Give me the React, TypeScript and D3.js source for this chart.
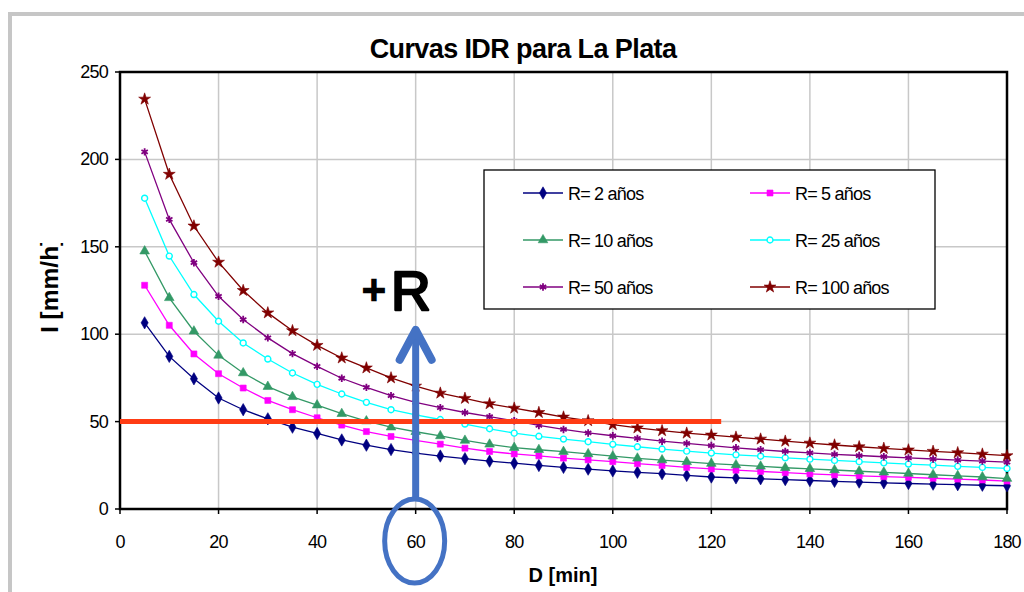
import React, { useMemo } from "react";
import * as d3 from "d3";

// durations [min]
const durations = [
  5, 10, 15, 20, 25, 30, 35, 40, 45, 50, 55, 60, 65, 70, 75, 80, 85, 90, 95,
  100, 105, 110, 115, 120, 125, 130, 135, 140, 145, 150, 155, 160, 165, 170,
  175, 180,
];

// intensities [mm/h]
const r2 = [
  106.5, 87.3, 74.5, 63.5, 56.8, 51.6, 46.8, 43.2, 39.5, 36.5, 34, 32, 30.3,
  28.8, 27.4, 26.2, 24.9, 23.8, 22.8, 21.8, 21, 20.2, 19.2, 18.3, 17.8, 17.3,
  16.8, 16.3, 15.8, 15.4, 15, 14.6, 14.2, 13.9, 13.6, 13.3,
];
const r5 = [
  128, 105.1, 88.7, 77.4, 69.2, 62.1, 56.8, 52.2, 48, 44.3, 41.5, 39.2, 37.1,
  34.8, 32.9, 31.5, 30.4, 29.1, 28.1, 27.1, 25.9, 24.9, 23.8, 22.9, 22.2, 21.5,
  20.8, 20.1, 19.5, 19, 18.5, 18.1, 17.6, 17.1, 16.6, 16,
];
const r10 = [
  147.5, 120.8, 101.7, 87.9, 77.8, 70, 64.2, 59.4, 54.5, 50.3, 46.8, 44.2,
  41.8, 39.2, 37, 35.1, 33.9, 32.8, 31.5, 30.2, 29, 28, 27, 26, 25.2, 24.4,
  23.6, 23, 22.3, 21.6, 21, 20.3, 19.6, 19, 18.3, 17.4,
];
const r25 = [
  177.8, 144.7, 122.7, 107.4, 95, 85.8, 77.8, 71.3, 65.8, 61, 56.8, 53.9, 51.2,
  48.6, 45.9, 43.4, 41.6, 40, 38.5, 37, 35.6, 34.3, 33.1, 32, 31, 30.2, 29.3,
  28.5, 27.8, 27.1, 26.4, 25.7, 25.1, 24.4, 23.8, 23.2,
];
const r50 = [
  204.3, 165.7, 140.9, 121.7, 108.4, 97.9, 88.9, 81.6, 74.8, 69.6, 64.8, 61,
  58, 55.2, 52.8, 50.5, 47.8, 45.5, 43.5, 41.9, 40.4, 38.8, 37.5, 36.3, 35,
  33.9, 32.9, 32.1, 31.3, 30.6, 29.9, 29.2, 28.6, 28, 27.4, 26.8,
];
const r100 = [
  234.5, 191.5, 161.9, 141.2, 125, 112.2, 102, 93.6, 86.4, 80.7, 75, 70.3,
  66.3, 63.3, 60.2, 57.7, 55.2, 52.6, 50.5, 48.3, 46.4, 44.8, 43.4, 42.3, 41.1,
  40, 38.8, 37.7, 36.6, 35.6, 34.7, 33.8, 33, 32.2, 31.4, 30.5,
];

const seriesNames = [
  "R= 2 años",
  "R= 5 años",
  "R= 10 años",
  "R= 25 años",
  "R= 50 años",
  "R= 100 años",
];
const seriesValues = [r2, r5, r10, r25, r50, r100];
const seriesColors = [
  "#000080",
  "#ff00ff",
  "#339966",
  "#00ffff",
  "#800080",
  "#800000",
];

const xTicks = [0, 20, 40, 60, 80, 100, 120, 140, 160, 180];
const yTicks = [0, 50, 100, 150, 200, 250];

// annotations drawn over the chart
const refIntensity = 50;
const refLineEnd = 122;
const arrowDuration = 60;
const arrowTop = 102.5;

const W = 1024,
  H = 592;
const left = 120,
  right = 1007,
  top = 72,
  bottom = 509;
const font = "'Liberation Sans', Arial, sans-serif";

const Marker = ({ i, x, y }: { i: number; x: number; y: number }) => {
  const c = seriesColors[i];
  const sym: any = [
    d3.symbolDiamond,
    d3.symbolSquare,
    d3.symbolTriangle,
    d3.symbolCircle,
    (d3 as any).symbolAsterisk ?? d3.symbolCross,
    d3.symbolStar,
  ][i];
  const size = [44, 36, 40, 28, 38, 44][i];
  const d = d3.symbol().type(sym).size(size)() as string;
  if (i === 3)
    return (
      <path d={d} transform={`translate(${x},${y})`} fill="#fff" stroke={c} strokeWidth={1.4} />
    );
  if (i === 4)
    return (
      <path d={d} transform={`translate(${x},${y})`} fill="none" stroke={c} strokeWidth={1.8} />
    );
  return <path d={d} transform={`translate(${x},${y})`} fill={c} stroke={c} strokeWidth={0.6} />;
};

const App = () => {
  const x = useMemo(() => d3.scaleLinear().domain([0, 180]).range([left, right]), []);
  const y = useMemo(() => d3.scaleLinear().domain([0, 250]).range([bottom, top]), []);
  const line = d3
    .line<number>()
    .x((_, i) => x(durations[i]))
    .y((v) => y(v));

  const legendCols = [523, 750];
  const legendRows = [193, 240, 287];

  const ax = x(arrowDuration);

  return (
    <div style={{ position: "absolute", left: 0, top: 0 }}>
      <svg width={W} height={H} style={{ display: "block", background: "#fff" }}>
        <defs>
          <clipPath id="ylab">
            <rect x={0} y={243} width={120} height={200} />
          </clipPath>
        </defs>
        {/* outer frame */}
        <rect x={10} y={14} width={1200} height={800} fill="none" stroke="#c6c6c6" strokeWidth={4} />

        <text x={523} y={58} textAnchor="middle" fontFamily={font} fontWeight="bold" fontSize={27} letterSpacing={-0.6}>
          Curvas IDR para La Plata
        </text>

        {/* grid */}
        {xTicks.slice(1, -1).map((t) => (
          <line key={"gx" + t} x1={x(t)} x2={x(t)} y1={top} y2={bottom} stroke="#c8c8c8" strokeWidth={1.5} />
        ))}
        {yTicks.slice(1, -1).map((t) => (
          <line key={"gy" + t} x1={left} x2={right} y1={y(t)} y2={y(t)} stroke="#c8c8c8" strokeWidth={1.5} />
        ))}

        {/* plot border + ticks */}
        <rect x={left} y={top} width={right - left} height={bottom - top} fill="none" stroke="#000" strokeWidth={2.5} />
        {yTicks.map((t) => (
          <g key={"yt" + t}>
            <line x1={left - 5} x2={left} y1={y(t)} y2={y(t)} stroke="#000" strokeWidth={1.5} />
            <text x={108} y={y(t) + 6} textAnchor="end" fontFamily={font} fontSize={18} letterSpacing={-0.8}>
              {t}
            </text>
          </g>
        ))}
        {xTicks.map((t) => (
          <g key={"xt" + t}>
            <line x1={x(t)} x2={x(t)} y1={bottom} y2={bottom + 5} stroke="#000" strokeWidth={1.5} />
            <text x={x(t)} y={548} textAnchor="middle" fontFamily={font} fontSize={18} letterSpacing={-0.8}>
              {t}
            </text>
          </g>
        ))}

        <text x={563} y={582} textAnchor="middle" fontFamily={font} fontWeight="bold" fontSize={20}>
          D [min]
        </text>
        <g clipPath="url(#ylab)">
          <text transform="translate(58,333) rotate(-90)" fontFamily={font} fontWeight="bold" fontSize={24.5}>
            I [mm/h]
          </text>
        </g>

        {/* series */}
        {seriesValues.map((vals, i) => (
          <g key={"s" + i}>
            <path d={line(vals) as string} fill="none" stroke={seriesColors[i]} strokeWidth={1.3} />
            {vals.map((v, j) => (
              <Marker key={j} i={i} x={x(durations[j])} y={y(v)} />
            ))}
          </g>
        ))}

        {/* legend */}
        <rect x={484} y={170} width={451} height={139} fill="#fff" stroke="#000" strokeWidth={1.3} />
        {seriesNames.map((name, i) => {
          const lx = legendCols[i % 2];
          const ly = legendRows[Math.floor(i / 2)];
          return (
            <g key={"l" + i}>
              <line x1={lx} x2={lx + 40} y1={ly} y2={ly} stroke={seriesColors[i]} strokeWidth={1.5} />
              <Marker i={i} x={lx + 20} y={ly} />
              <text x={lx + 45} y={ly + 6.5} fontFamily={font} fontSize={18} letterSpacing={-0.8}>
                {name}
              </text>
            </g>
          );
        })}

        {/* annotations */}
        <line x1={x(0)} x2={x(refLineEnd)} y1={y(refIntensity)} y2={y(refIntensity)} stroke="#ff3c14" strokeWidth={5} />
        <line x1={ax} x2={ax} y1={498} y2={y(arrowTop) + 4} stroke="#4472c4" strokeWidth={7} />
        <polyline
          points={`${ax - 16},${y(arrowTop) + 30} ${ax},${y(arrowTop)} ${ax + 16},${y(arrowTop) + 30}`}
          fill="none"
          stroke="#4472c4"
          strokeWidth={8}
          strokeLinecap="round"
          strokeLinejoin="round"
        />
        <ellipse cx={ax - 1} cy={541} rx={30} ry={42} fill="none" stroke="#4472c4" strokeWidth={5} />
        <text x={374} y={304} textAnchor="middle" fontFamily={font} fontSize={40} stroke="#000" strokeWidth={2.5}>
          +
        </text>
        <text x={391} y={310} fontFamily={font} fontSize={55} stroke="#000" strokeWidth={2.5} strokeLinejoin="round">
          R
        </text>
      </svg>
    </div>
  );
};

export default App;
